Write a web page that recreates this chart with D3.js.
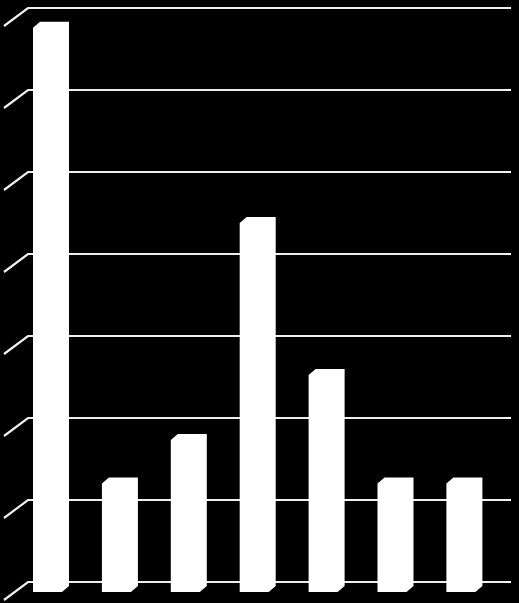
<!DOCTYPE html>
<meta charset="utf-8">
<script src="https://d3js.org/d3.v7.min.js"></script>
<style>
  body { margin: 0; background: #000; }
  svg { display: block; }
</style>
<body>
<div id="chart"></div>
<script>

// data
var categories = ["1", "2", "3", "4", "5", "6", "7"];
var values = [26, 5, 7, 17, 10, 5, 5];
var ticks = [0, 4, 8, 12, 16, 20, 24, 28];

var W = 519, H = 603;

// 3d offsets: back wall depth and bar depth
var wall = {dx: 24, dy: 18},
    bar = {dx: 7, dy: 6};

var svg = d3.select("#chart")
  .append("svg")
    .attr("width", W)
    .attr("height", H);

svg.append("rect")
  .attr("width", W)
  .attr("height", H)
  .attr("fill", "#000");

// back wall scale (gridlines)
var y = d3.scaleLinear()
  .domain([0, 28])
  .range([582, 8]);

// bars sit in front of the wall, so they come out a bit bigger
var yBar = d3.scaleLinear()
  .domain([0, 28])
  .range([592, 592 - 28 * 21.7]);

var x = d3.scaleBand()
  .domain(categories)
  .range([33, 33 + 6 * 68.9 + 29])
  .paddingInner(0.579)
  .paddingOuter(0);

var wallLeft = 28, wallRight = 511;

// gridlines + the diagonal on the side wall
var grid = svg.append("g")
  .attr("stroke", "#eeeeee")
  .attr("stroke-width", 2.2)
  .attr("fill", "none");

grid.selectAll("path")
  .data(ticks)
  .enter()
  .append("path")
    .attr("d", function(d) {
      var yy = y(d);
      return "M" + (wallLeft - wall.dx) + "," + (yy + wall.dy) +
             "L" + wallLeft + "," + yy +
             "L" + wallRight + "," + yy;
    });

// bars: front, top and side all white so it is one outline
svg.append("g")
  .selectAll("path")
  .data(values)
  .enter()
  .append("path")
    .attr("fill", "#ffffff")
    .attr("d", function(d, i) {
      var x0 = x(categories[i]),
          x1 = x0 + x.bandwidth(),
          yt = yBar(d),
          yb = yBar(0);
      return "M" + x0 + "," + yb +
             "L" + x0 + "," + yt +
             "L" + (x0 + bar.dx) + "," + (yt - bar.dy) +
             "L" + (x1 + bar.dx) + "," + (yt - bar.dy) +
             "L" + (x1 + bar.dx) + "," + (yb - bar.dy) +
             "L" + x1 + "," + yb + "Z";
    });

</script>
</body>
